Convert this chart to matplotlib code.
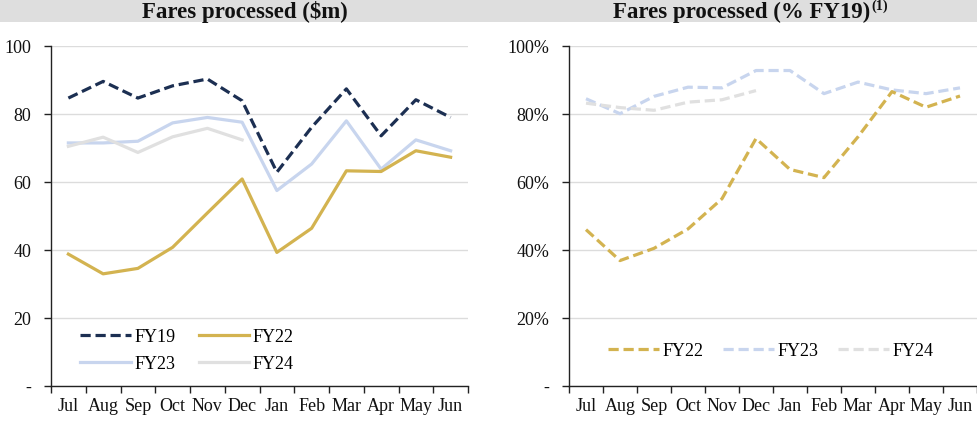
import matplotlib
matplotlib.use("Agg")
import matplotlib.pyplot as plt
from matplotlib.patches import Rectangle
from matplotlib.ticker import FixedLocator, FuncFormatter

plt.rcParams['font.family'] = ['Liberation Serif', 'DejaVu Serif']

months = ["Jul", "Aug", "Sep", "Oct", "Nov", "Dec", "Jan", "Feb", "Mar", "Apr", "May", "Jun"]

# Fares processed ($m)
fy19 = [84.6, 89.5, 84.6, 88.2, 90.2, 83.8, 62.8, 76.0, 87.3, 73.5, 84.1, 78.9]
fy22 = [38.7, 32.9, 34.5, 40.7, 50.8, 60.8, 39.2, 46.3, 63.2, 63.0, 69.1, 67.2]
fy23 = [71.4, 71.4, 71.9, 77.3, 78.9, 77.5, 57.4, 65.2, 77.9, 63.7, 72.3, 69.1]
fy24 = [70.4, 73.1, 68.6, 73.2, 75.7, 72.3]

# Fares processed (% FY19)
pct22 = [45.9, 36.8, 40.4, 46.1, 55.0, 72.7, 63.6, 61.2, 73.2, 86.5, 81.9, 85.2]
pct23 = [84.4, 80.0, 85.1, 87.8, 87.6, 92.7, 92.7, 85.9, 89.3, 87.0, 85.9, 87.6]
pct24 = [83.1, 81.8, 81.0, 83.4, 84.1, 86.8]

left_yticks = [0, 20, 40, 60, 80, 100]
right_yticks = [0, 20, 40, 60, 80, 100]

C19 = "#1c2f52"
C22 = "#d3b350"
C23 = "#c8d5ee"
C24 = "#e0e0e0"
GRID = "#dcdcdc"

FS = 13.0
TFS = 16.5
W, H = 977, 427
fig = plt.figure(figsize=(W / 100, H / 100), dpi=100)

# grey banner
fig.patches.append(Rectangle((0, 1 - 23 / H), 1, 23 / H, transform=fig.transFigure,
                             facecolor="#dedede", edgecolor="none", zorder=0))
fig.text(245 / W, 1 - 12 / H, "Fares processed ($m)", ha="center", va="center",
         fontsize=TFS, fontweight="bold", color="#111111")
t2 = fig.text(742 / W, 1 - 12 / H, "Fares processed (% FY19)", ha="center", va="center",
              fontsize=TFS, fontweight="bold", color="#111111")
fig.canvas.draw()
bb = t2.get_window_extent()
fig.text((bb.x1 + 1) / W, 1 - 6 / H, "(1)", ha="left", va="center",
         fontsize=TFS * 0.62, fontweight="bold", color="#111111")

bottom = (H - 386.7) / H
height = 340 / H
ax1 = fig.add_axes([51 / W, bottom, 417 / W, height])
ax2 = fig.add_axes([569 / W, bottom, 408 / W, height])

x = list(range(12))
lw = 2.3
DASH = (0, (3.2, 1.5))


def style(ax, yticks, fmt):
    ax.set_xlim(-0.5, 11.5)
    ax.set_ylim(0, 100)
    for s in ["top", "right"]:
        ax.spines[s].set_visible(False)
    for s in ["left", "bottom"]:
        ax.spines[s].set_color("#222222")
        ax.spines[s].set_linewidth(1.0)
    ax.yaxis.set_major_locator(FixedLocator(yticks))
    ax.yaxis.set_major_formatter(FuncFormatter(fmt))
    ax.grid(axis="y", color=GRID, linewidth=1.0)
    ax.set_axisbelow(True)
    ax.xaxis.set_major_locator(FixedLocator([i - 0.5 for i in range(13)]))
    ax.xaxis.set_major_formatter(FuncFormatter(lambda v, p: ""))
    ax.xaxis.set_minor_locator(FixedLocator(x))
    ax.set_xticklabels(months, minor=True)
    ax.tick_params(axis="x", which="major", length=5, direction="out", color="#222222", width=1.0)
    ax.tick_params(axis="x", which="minor", length=0, pad=8, labelsize=FS, labelcolor="#111111")
    ax.tick_params(axis="y", length=5, direction="out", color="#222222", width=1.0,
                   labelsize=FS, labelcolor="#111111", pad=9)


style(ax1, left_yticks, lambda v, p: "-" if v == 0 else f"{v:.0f}")
style(ax2, right_yticks, lambda v, p: "-" if v == 0 else f"{v:.0f}%")

ax1.plot(x, fy23, color=C23, lw=lw, label="FY23", zorder=2)
ax1.plot(x[:len(fy24)], fy24, color=C24, lw=lw, label="FY24", zorder=2)
ax1.plot(x, fy22, color=C22, lw=lw, label="FY22", zorder=3)
ax1.plot(x, fy19, color=C19, lw=lw, ls=DASH, label="FY19", zorder=4)

h, l = ax1.get_legend_handles_labels()
order = ["FY19", "FY23", "FY22", "FY24"]
hh = [h[l.index(o)] for o in order]
ax1.legend(hh, order, ncol=2, loc="upper left", bbox_to_anchor=(80 / W, 1 - 329 / H),
           bbox_transform=fig.transFigure, borderpad=0, borderaxespad=0,
           frameon=False, fontsize=FS, handlelength=2.8, handletextpad=0.2,
           columnspacing=1.3, labelspacing=0.55)

ax2.plot(x, pct23, color=C23, lw=lw, ls=DASH, label="FY23", zorder=2)
ax2.plot(x[:len(pct24)], pct24, color=C24, lw=lw, ls=DASH, label="FY24", zorder=2)
ax2.plot(x, pct22, color=C22, lw=lw, ls=DASH, label="FY22", zorder=3)

h, l = ax2.get_legend_handles_labels()
order2 = ["FY22", "FY23", "FY24"]
hh2 = [h[l.index(o)] for o in order2]
ax2.legend(hh2, order2, ncol=3, loc="upper left", bbox_to_anchor=(608 / W, 1 - 343 / H),
           bbox_transform=fig.transFigure, borderpad=0, borderaxespad=0,
           frameon=False, fontsize=FS, handlelength=2.8, handletextpad=0.2,
           columnspacing=1.1)

fig.savefig("out.png", dpi=100)
